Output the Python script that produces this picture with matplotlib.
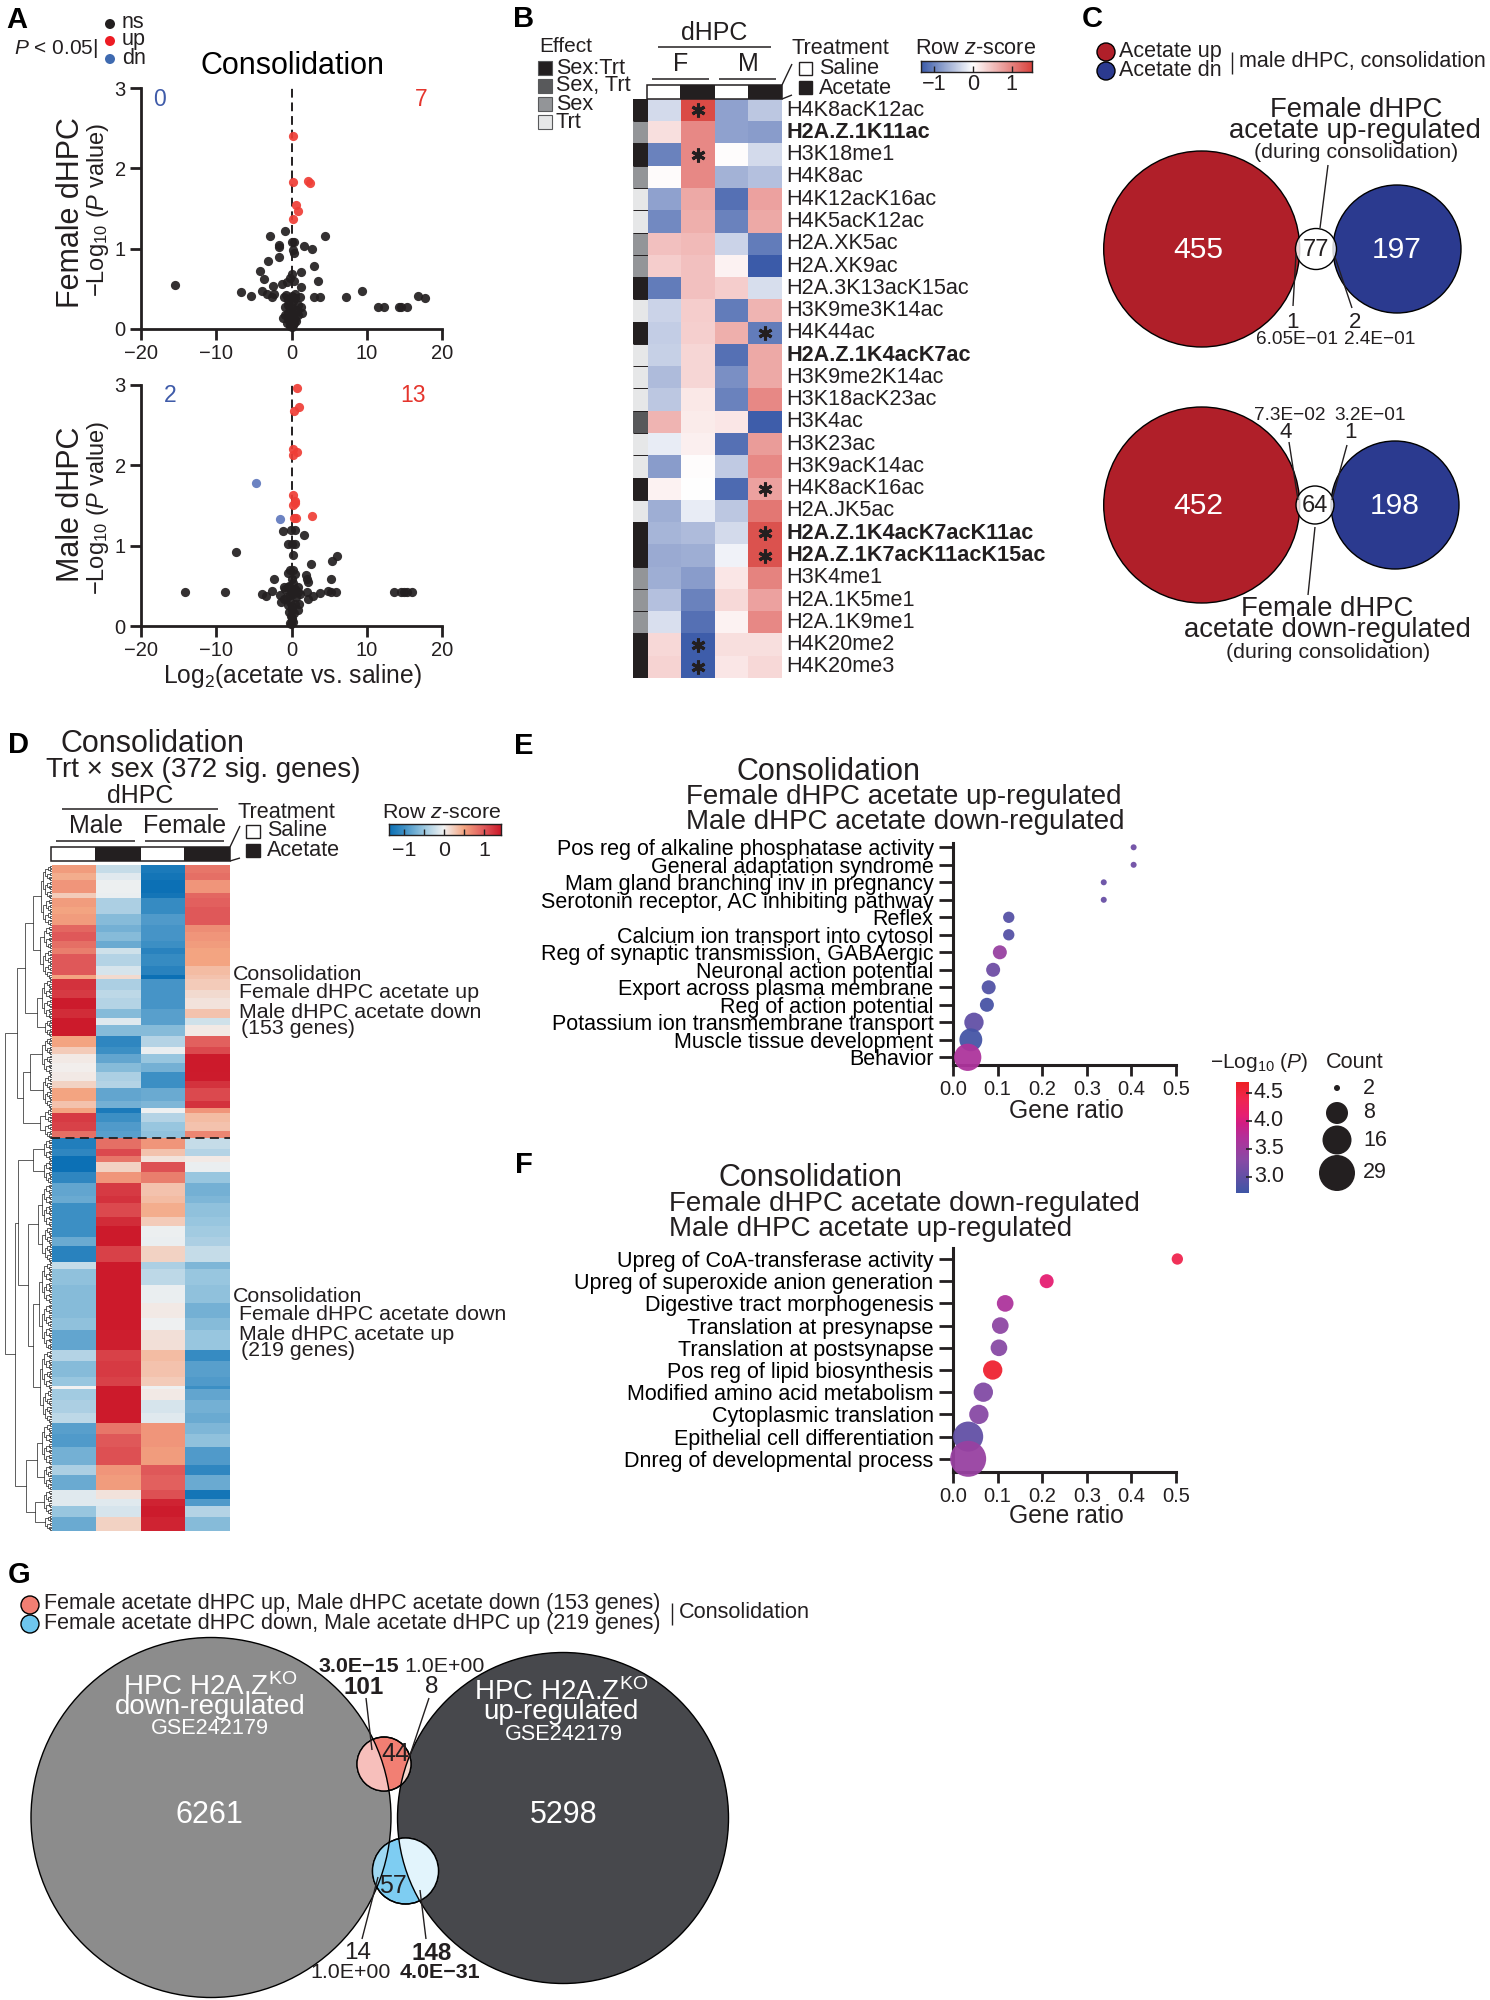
import numpy as np
import matplotlib
matplotlib.use('Agg')
import matplotlib.pyplot as plt
from matplotlib.patches import Circle, Rectangle
from matplotlib.colors import LinearSegmentedColormap, ListedColormap, TwoSlopeNorm, Normalize

plt.rcParams['font.family'] = ['Liberation Sans', 'DejaVu Sans']
plt.rcParams['mathtext.fontset'] = 'custom'
plt.rcParams['mathtext.rm'] = 'Liberation Sans'
plt.rcParams['mathtext.it'] = 'Liberation Sans:italic'
plt.rcParams['mathtext.bf'] = 'Liberation Sans:bold'
plt.rcParams['mathtext.default'] = 'regular'

# ---- panel A, volcano points (log2 fold change, -log10 p)
fem_ns_x = [-2.8, -0.8, 4.5, -1.7, -1.7, 0.0, 0.3, 1.6, 2.7, 0.2, 0.35, -1.6, -3.1, 3.0, -4.2, 1.3, -3.6, 3.5, 0.0, -0.2,
            0.3, -0.6, -1.3, -2.4, 1.2, -15.5, -6.7, -5.4, -3.9, -3.3, -2.6, -2.3, -1.0, 0.0, 0.4, 1.1, 3.0, 3.8, 7.2, 9.4,
            16.8, 17.8, 11.5, 12.3, 14.3, 14.6, 15.3, -0.7, -0.4, -0.1, 0.2, 0.5, 0.9, 1.3, 1.4, -0.9, -0.5, -0.2, 0.1, 0.4,
            0.7, -1.1, -0.8, -0.5, -0.3, 0.0, 0.2, 0.5, 0.8, -0.6, -0.3, 0.0, 0.3, 0.6, -0.2, 0.0, 0.15, -0.1]
fem_ns_y = [1.16, 1.22, 1.16, 1.05, 1.02, 1.08, 1.08, 1.03, 0.99, 0.98, 0.94, 0.90, 0.85, 0.78, 0.72, 0.71, 0.62, 0.60, 0.69, 0.64,
            0.60, 0.59, 0.56, 0.53, 0.52, 0.55, 0.46, 0.41, 0.47, 0.43, 0.40, 0.43, 0.40, 0.41, 0.44, 0.40, 0.40, 0.40, 0.40, 0.47,
            0.41, 0.38, 0.28, 0.28, 0.28, 0.28, 0.28, 0.42, 0.36, 0.38, 0.35, 0.39, 0.30, 0.28, 0.20, 0.28, 0.30, 0.25, 0.27, 0.24,
            0.22, 0.14, 0.18, 0.20, 0.14, 0.18, 0.16, 0.12, 0.18, 0.08, 0.10, 0.09, 0.08, 0.10, 0.04, 0.03, 0.05, 0.12]
fem_up_x = [0.2, 0.2, 2.2, 2.5, 0.6, 0.8, 0.2]
fem_up_y = [2.40, 1.83, 1.84, 1.82, 1.54, 1.47, 1.37]

male_ns_x = [-1.15, -0.1, 0.5, 1.7, -0.5, 0.5, 0.0, -7.4, 0.25, 6.0, 5.4, 2.65, -0.2, 0.25, -0.4, 0.5, 1.9, 2.0, 2.25, 5.2,
             -2.3, -14.1, -8.9, -3.9, -3.4, -2.6, -1.5, -1.0, -0.4, 0.25, 0.0, 0.9, 1.15, 2.0, 2.25, 2.9, 3.8, 4.9, 5.25, 5.9,
             13.6, 14.6, 15.0, 15.3, 16.0, -0.8, -0.3, 0.1, 0.5, 0.8, -1.4, -1.0, -0.6, -0.2, 0.2, 0.6, 1.0, -0.5, -0.2, 0.1,
             0.4, 0.9, -0.3, 0.0, 0.3, -0.1, 0.1, 0.0, 0.2, -0.2, -0.1]
male_ns_y = [1.18, 1.20, 1.20, 1.13, 1.02, 1.02, 1.02, 0.92, 0.88, 0.87, 0.81, 0.77, 0.70, 0.70, 0.66, 0.65, 0.63, 0.59, 0.55, 0.59,
             0.59, 0.42, 0.42, 0.40, 0.37, 0.43, 0.38, 0.48, 0.48, 0.53, 0.59, 0.48, 0.40, 0.42, 0.34, 0.37, 0.41, 0.43, 0.42, 0.42,
             0.42, 0.42, 0.42, 0.42, 0.42, 0.46, 0.50, 0.44, 0.46, 0.42, 0.30, 0.34, 0.36, 0.38, 0.40, 0.36, 0.28, 0.26, 0.30, 0.24,
             0.28, 0.20, 0.18, 0.20, 0.16, 0.12, 0.10, 0.07, 0.05, 0.04, 0.02]
male_up_x = [0.7, 1.0, 0.35, 0.15, 0.7, 0.2, 0.25, 0.5, 0.15, 2.7, 0.35, 0.6, 0.5]
male_up_y = [2.96, 2.72, 2.68, 2.20, 2.17, 2.13, 1.63, 1.55, 1.51, 1.37, 1.34, 1.35, 1.53]
male_dn_x = [-4.7, -1.55]
male_dn_y = [1.78, 1.33]

# ---- panel B, histone marks, z-scores F saline / F acetate / M saline / M acetate
marks = ['H4K8acK12ac', 'H2A.Z.1K11ac', 'H3K18me1', 'H4K8ac', 'H4K12acK16ac', 'H4K5acK12ac', 'H2A.XK5ac', 'H2A.XK9ac',
         'H2A.3K13acK15ac', 'H3K9me3K14ac', 'H4K44ac', 'H2A.Z.1K4acK7ac', 'H3K9me2K14ac', 'H3K18acK23ac', 'H3K4ac',
         'H3K23ac', 'H3K9acK14ac', 'H4K8acK16ac', 'H2A.JK5ac', 'H2A.Z.1K4acK7acK11ac', 'H2A.Z.1K7acK11acK15ac',
         'H3K4me1', 'H2A.1K5me1', 'H2A.1K9me1', 'H4K20me2', 'H4K20me3']
bold_marks = ['H2A.Z.1K11ac', 'H2A.Z.1K4acK7ac', 'H2A.Z.1K4acK7acK11ac', 'H2A.Z.1K7acK11acK15ac']
f_saline = [-0.30, 0.25, -1.00, 0.03, -0.75, -0.95, 0.50, 0.40, -1.05, -0.35, -0.40, -0.38, -0.55, -0.45, 0.60, -0.15,
            -0.80, 0.10, -0.65, -0.60, -0.68, -0.65, -0.50, -0.25, 0.32, 0.35]
f_acetate = [1.45, 0.95, 0.95, 0.95, 0.70, 0.65, 0.55, 0.50, 0.50, 0.40, 0.38, 0.33, 0.33, 0.18, 0.16, 0.12,
             0.02, 0.00, -0.15, -0.55, -0.65, -0.80, -1.00, -1.15, -1.30, -1.30]
m_saline = [-0.75, -0.75, 0.02, -0.62, -1.15, -1.00, -0.35, 0.10, 0.40, -1.05, 0.65, -1.15, -0.90, -1.00, 0.20, -1.15,
            -0.42, -1.20, -0.45, -0.30, -0.10, 0.20, 0.30, 0.10, 0.25, 0.20]
m_acetate = [-0.45, -0.80, -0.30, -0.50, 0.75, 0.70, -1.05, -1.33, -0.27, 0.60, -1.05, 0.70, 0.70, 0.95, -1.30, 0.80,
             0.95, 0.75, 1.10, 1.40, 1.40, 1.00, 0.75, 0.95, 0.25, 0.32]
effect_names = ['Sex:Trt', 'Sex, Trt', 'Sex', 'Trt']
effect_cols = ['#231f20', '#58595b', '#939598', '#e6e7e8']
effect_idx = [0, 2, 0, 2, 3, 3, 2, 2, 0, 3, 0, 3, 3, 3, 1, 3, 3, 0, 3, 0, 0, 2, 2, 2, 0, 0]
star_rows = [0, 2, 10, 17, 19, 20, 24, 25]
star_cols = [1, 1, 3, 3, 3, 3, 1, 1]

# ---- panel D, clustered rows as bands of genes, z-scores per group
band_genes = [5, 4, 7, 3, 5, 4, 6, 4, 5, 4, 3, 7, 5, 2, 6, 5, 6, 5, 4, 6, 6, 4, 5, 5, 5, 4, 7, 4, 3, 5, 5, 4,
              6, 4, 3, 6, 6, 7, 4, 8, 5, 6, 5, 9, 4, 9, 10, 8, 7, 11, 6, 9, 5, 2, 6, 7, 6, 6, 7, 10, 6, 8, 5, 4, 6, 8]
male_sal = [.55, .45, .60, .25, .55, .50, .55, .90, 1.0, .85, .75, 1.0, 1.0, .50, 1.25, 1.2, 1.4, 1.3, 1.42, 1.42,
            .50, .25, .05, .02, .05, .20, .50, .30, .50, 1.2, 1.15, .85,
            -1.2, -1.1, -1.35, -1.35, -1.1, -.80, -.75, -1.0, -1.0, -1.0, -.75, -1.15, -.25, -.55, -.60, -.60, -.55, -.80,
            -.35, -.60, -.50, 0.0, -.45, -.40, -.30, -.85, -.90, -.70, -.40, -.75, -.10, -.10, -.50, -.75]
male_ace = [-.25, -.10, -.03, -.05, -.40, -.40, -.60, -.70, -.60, -.75, -.20, -.35, -.15, .15, -.40, -.30, -.35, -.60, -.10, -.60,
            -1.1, -1.0, -.80, -.60, -.40, -.35, -.80, -.70, -1.25, -1.0, -.90, -.85,
            .85, 1.1, .80, .20, .60, 1.2, 1.25, 1.1, 1.3, 1.42, 1.42, 1.15, 1.42, 1.42, 1.42, 1.42, 1.42, 1.38,
            1.15, 1.2, 1.15, 1.42, 1.42, 1.42, 1.42, .80, 1.0, 1.05, .60, .55, .10, -.10, -.15, .20]
fem_sal = [-1.25, -1.3, -1.35, -1.3, -1.05, -1.05, -.90, -.95, -.95, -1.0, -1.15, -1.05, -1.15, -1.35, -.95, -.95, -.95, -.85, -.85, -.60,
           -.35, -.05, -.50, -.70, -1.0, -1.0, -.75, -.65, -.02, -.35, -.50, -.55,
           .60, .30, .10, 1.05, .75, .30, .35, .45, .25, -.03, -.05, .20, -.40, -.30, -.05, .05, -.02, .12,
           .35, .30, .25, -.02, .05, -.15, -.10, .60, .60, .55, 1.0, .95, 1.05, 1.35, 1.4, 1.35]
fem_ace = [.80, .85, .60, .90, .95, 1.0, 1.0, .65, .60, .55, .50, .50, .35, .30, .25, .15, .10, .30, -.20, .05,
           .95, 1.1, 1.42, 1.42, 1.4, 1.25, 1.1, 1.25, .60, .35, .30, .70,
           -.25, -.35, .05, -.05, -.50, -.70, -.65, -.55, -.50, -.45, -.40, -.25, -.65, -.50, -.55, -.70, -.60, -.50,
           -1.05, -.85, -.90, -1.0, -.80, -.70, -.75, -.65, -.55, -.90, -1.1, -.75, -1.3, -.90, -.35, -.60]
# merge tree (height, left, right), a plain number is a tight group of that many genes
upper_tree = (35, (27, (19, (11, 19, 15), (12, 13, 17)), (15, 22, 10)),
              (29, (22, 21, 19), (12, 8, 9)))
lower_tree = (37.5, (34, (19, 12, 13), (24, (14, 24, 20), (19, (13, 23, 26), (12, 22, 19)))),
              (26, (15, 23, 14), (17, 14, 9)))
root_height = 47

# ---- panel C/G, overlap counts
c_up = ['455', '77', '197']
c_dn = ['452', '64', '198']
g_counts = ['6261', '5298', '44', '57']

# ---- panels E, F, enrichment
e_terms = ['Pos reg of alkaline phosphatase activity', 'General adaptation syndrome', 'Mam gland branching inv in pregnancy',
           'Serotonin receptor, AC inhibiting pathway', 'Reflex', 'Calcium ion transport into cytosol',
           'Reg of synaptic transmission, GABAergic', 'Neuronal action potential', 'Export across plasma membrane',
           'Reg of action potential', 'Potassium ion transmembrane transport', 'Muscle tissue development', 'Behavior']
e_ratio = [0.405, 0.405, 0.338, 0.338, 0.125, 0.125, 0.105, 0.09, 0.08, 0.076, 0.047, 0.04, 0.033]
e_count = [2, 2, 2, 2, 4, 4, 5, 5, 5, 5, 7, 9, 14]
e_logp = [3.1, 3.1, 3.05, 3.05, 2.9, 2.9, 3.45, 3.1, 2.87, 2.8, 3.0, 2.77, 3.65]
f_terms = ['Upreg of CoA-transferase activity', 'Upreg of superoxide anion generation', 'Digestive tract morphogenesis',
           'Translation at presynapse', 'Translation at postsynapse', 'Pos reg of lipid biosynthesis',
           'Modified amino acid metabolism', 'Cytoplasmic translation', 'Epithelial cell differentiation',
           'Dnreg of developmental process']
f_ratio = [0.503, 0.21, 0.117, 0.106, 0.103, 0.089, 0.068, 0.058, 0.034, 0.034]
f_count = [4, 5, 6, 6, 6, 7, 7, 7, 18, 29]
f_logp = [4.4, 4.1, 3.65, 3.35, 3.3, 4.6, 3.25, 3.3, 3.0, 3.45]
size_counts = [2, 8, 16, 29]
size_diam_px = [6, 22, 29, 36]

BLACK = '#231f20'
W, H = 1490, 2000
fig = plt.figure(figsize=(W / 100, H / 100), dpi=100, facecolor='white')

# overlay in reference pixels for text and schematic shapes
ov = fig.add_axes([0, 0, 1, 1], zorder=5)
ov.set_xlim(0, W)
ov.set_ylim(H, 0)
ov.axis('off')
ov.patch.set_alpha(0)


def px_axes(x0, y0, x1, y1):
    return fig.add_axes([x0 / W, 1 - y1 / H, (x1 - x0) / W, (y1 - y0) / H])


def t(x, y, s, size=15.5, ha='left', color=BLACK, **kw):
    return ov.text(x, y, s, fontsize=size, ha=ha, va='center', color=color, **kw)


def seg(x0, y0, x1, y1, lw=1.0, color=BLACK, **kw):
    ov.plot([x0, x1], [y0, y1], color=color, lw=lw, solid_capstyle='butt', **kw)


def box(x0, y0, x1, y1, fc, ec=BLACK, lw=1.0):
    ov.add_patch(Rectangle((x0, y0), x1 - x0, y1 - y0, fc=fc, ec=ec, lw=lw))


def circ(x, y, r, fc, ec='black', lw=1.0, z=2):
    c = Circle((x, y), r, fc=fc, ec=ec, lw=lw, zorder=z)
    ov.add_patch(c)
    return c


def letter(x, y, s):
    t(x, y, s, size=21, ha='center', color='black', fontweight='bold')


def cbar_h(x0, y0, x1, y1, cmap, norm, vmin, vmax, ticks):
    ax = px_axes(x0, y0, x1, y1)
    ax.imshow(np.linspace(vmin, vmax, 256)[None, :], aspect='auto', cmap=cmap, norm=norm, extent=[vmin, vmax, 0, 1])
    ax.set_yticks([])
    ax.set_xticks(ticks)
    ax.set_xticklabels([])
    ax.tick_params(axis='x', direction='in', length=4, width=1, color=BLACK)
    for s in ax.spines.values():
        s.set_linewidth(1.0)
        s.set_color(BLACK)


# ---- A
def volcano(box_px, ns_x, ns_y, up_x, up_y, dn_x, dn_y, ylab, y_big, y_small):
    ax = px_axes(*box_px)
    ax.scatter(ns_x, ns_y, s=44, c=BLACK, alpha=0.92, lw=0, clip_on=False, zorder=3)
    ax.scatter(up_x, up_y, s=44, c='#ef3e36', alpha=0.92, lw=0, clip_on=False, zorder=3)
    if dn_x:
        ax.scatter(dn_x, dn_y, s=44, c='#6078bd', alpha=0.92, lw=0, clip_on=False, zorder=3)
    ax.axvline(0, color=BLACK, lw=1.4, dashes=(4.5, 2.5), zorder=2)
    ax.set_xlim(-20, 20)
    ax.set_ylim(0, 3)
    ax.set_xticks([-20, -10, 0, 10, 20])
    ax.set_xticklabels(['\u221220', '\u221210', '0', '10', '20'])
    ax.set_yticks([0, 1, 2, 3])
    ax.tick_params(length=8, width=2, labelsize=14.5, pad=3, color=BLACK, labelcolor=BLACK)
    for s in ['top', 'right']:
        ax.spines[s].set_visible(False)
    for s in ['left', 'bottom']:
        ax.spines[s].set_linewidth(2)
        ax.spines[s].set_color(BLACK)
    ax.patch.set_alpha(0)
    t(71, y_big, ylab, size=22, ha='center', rotation=90)
    t(98, y_small, r'$-$Log$_{10}$ ($\mathit{P}$ value)', size=17, ha='center', rotation=90)
    return ax


volcano((141, 88, 442, 329), fem_ns_x, fem_ns_y, fem_up_x, fem_up_y, [], [], 'Female dHPC', 213, 210)
volcano((141, 385, 442, 626), male_ns_x, male_ns_y, male_up_x, male_up_y, male_dn_x, male_dn_y, 'Male dHPC', 504, 508)
t(159, 99, '0', size=16.5, ha='center', color='#3f5ba9')
t(421, 99, '7', size=16.5, ha='center', color='#e5352d')
t(170, 396, '2', size=16.5, ha='center', color='#3f5ba9')
t(413, 396, '13', size=16.5, ha='center', color='#e5352d')
t(292, 66, 'Consolidation', size=22, ha='center', color='black')
t(292, 676, r'Log$_{2}$(acetate vs. saline)', size=17.7, ha='center')
letter(17, 20, 'A')
t(14, 48, r'$\mathit{P}$ < 0.05|', size=15)
for yy, col, lab in zip([24, 41, 59], [BLACK, '#ed1c24', '#3f6ab0'], ['ns', 'up', 'dn']):
    circ(110, yy, 5, col, ec='none')
    t(122, yy - 1, lab, size=15.5)

# ---- B
bmap = LinearSegmentedColormap.from_list('b', ['#3b5ba9', '#ffffff', '#d9443f'])
bnorm = TwoSlopeNorm(vmin=-1.33, vcenter=0, vmax=1.52)
bdata = np.column_stack([f_saline, f_acetate, m_saline, m_acetate])
ax = px_axes(648, 99, 782, 678)
ax.imshow(bdata, aspect='auto', cmap=bmap, norm=bnorm, interpolation='nearest')
ax.plot(star_cols, star_rows, ls='none', marker=(6, 2, 0), ms=10, mew=2.2, color=BLACK)
ax.axis('off')
ax.set_xlim(-0.5, 3.5)
ax.set_ylim(25.5, -0.5)
ax2 = px_axes(633, 99, 648, 678)
ax2.imshow(np.array(effect_idx)[:, None], aspect='auto', interpolation='nearest',
           cmap=ListedColormap(effect_cols), vmin=-0.5, vmax=3.5)
ax2.hlines(np.arange(0.5, 25), -0.5, 0.5, color=BLACK, lw=0.7)
ax2.axis('off')
row_h = 579 / 26
for i, m in enumerate(marks):
    t(786, 99 + (i + 0.5) * row_h, m, size=15.6, fontweight='bold' if m in bold_marks else 'normal')
letter(524, 19, 'B')
t(539, 47, 'Effect', size=15)
for yy, col, lab in zip([68, 86, 104, 122], effect_cols, effect_names):
    box(538, yy - 7, 552, yy + 7, col, ec='#58595b', lw=0.8)
    t(556, yy, lab, size=15.6)
t(714, 33, 'dHPC', size=18, ha='center')
seg(658, 47, 771, 47, 1.1)
t(681, 64, 'F', size=18, ha='center')
t(748, 64, 'M', size=18, ha='center')
seg(652, 79, 709, 79, 1.1)
seg(719, 79, 776, 79, 1.1)
box(647, 85, 782, 99, 'white', lw=1.1)
box(680, 85, 715, 99, BLACK, lw=0)
box(748, 85, 782, 99, BLACK, lw=0)
seg(782, 85, 792, 64, 1.0)
seg(782, 99, 792, 95, 1.0)
t(792, 49, 'Treatment', size=15.6)
box(799, 62, 812, 75, 'white')
t(819, 68, 'Saline', size=15.6)
box(799, 81, 812, 94, BLACK)
t(819, 88, 'Acetate', size=15.6)
t(976, 49, r'Row $\mathit{z}$-score', size=15.6, ha='center')
cbar_h(921, 61, 1032, 72, bmap, bnorm, -1.33, 1.52, [-1, 0, 1])
for val, lab in zip([-1, 0, 1], ['\u22121', '0', '1']):
    t(921 + (val + 1.33) / 2.85 * 111, 85, lab, size=15.6, ha='center')

# ---- C
RED, NAVY = '#b01f29', '#2b3a8f'
letter(1092, 19, 'C')
circ(1106, 52, 9, RED)
circ(1106, 71, 9, NAVY)
t(1119, 51, 'Acetate up', size=15.5)
t(1119, 70, 'Acetate dn', size=15.5)
seg(1232, 52, 1232, 74, 1.0)
t(1239, 61, 'male dHPC, consolidation', size=15.5)
for cy, labs, cx3, r3, cx2 in [(249, c_up, 1316, 20.5, 1397), (505, c_dn, 1315, 19, 1395)]:
    circ(1201.7, cy, 98, RED)
    circ(cx2, cy, 64, NAVY)
    circ(cx3, cy, r3, (1, 1, 1, 0.82), z=3)
    t(1198, cy + 1, labs[0], size=21.6, ha='center', color='white')
    t(cx3, cy + 1, labs[1], size=17, ha='center')
    t(cx2, cy + 1, labs[2], size=21.6, ha='center', color='white')
seg(1328, 165, 1320, 228)
t(1356, 110, 'Female dHPC', size=19.8, ha='center')
t(1355, 131, 'acetate up-regulated', size=19.8, ha='center')
t(1356, 153, '(during consolidation)', size=15.4, ha='center')
seg(1296, 254, 1293, 306, zorder=4)
seg(1335, 257, 1352, 308, zorder=4)
t(1292, 322, '1', size=16, ha='center')
t(1355, 322, '2', size=16, ha='center')
t(1297, 340, '6.05E\u221201', size=13.7, ha='center')
t(1380, 340, '2.4E\u221201', size=13.7, ha='center')
t(1290, 415, '7.3E\u221202', size=13.7, ha='center')
t(1370, 415, '3.2E\u221201', size=13.7, ha='center')
t(1286, 433, '4', size=16, ha='center')
t(1350, 433, '1', size=16, ha='center')
seg(1289, 442, 1298, 500, zorder=4)
seg(1347, 445, 1332, 500, zorder=4)
seg(1315, 527, 1308, 595)
t(1327, 609, 'Female dHPC', size=19.8, ha='center')
t(1327, 630, 'acetate down-regulated', size=19.8, ha='center')
t(1328, 652, '(during consolidation)', size=15.4, ha='center')

# ---- D
dmap = LinearSegmentedColormap.from_list('d', [(0, '#0b70b5'), (0.133, '#3e90c5'), (0.316, '#9cc8e0'), (0.49, '#f2f2f2'),
                                              (0.67, '#f4a582'), (0.85, '#e0595a'), (1, '#cc1a2b')])
dnorm = Normalize(-1.37, 1.42)
ddata = np.repeat(np.column_stack([male_sal, male_ace, fem_sal, fem_ace]), band_genes, axis=0)
ax = px_axes(52, 865, 229, 1531)
ax.imshow(ddata, aspect='auto', cmap=dmap, norm=dnorm, interpolation='nearest')
ax.axis('off')
seg(51, 1138, 230, 1138, 1.3, dashes=(5, 3), zorder=6)

# dendrogram, drawn by walking the merge tree top to bottom
dax = px_axes(4, 865, 52, 1531)
dax.set_xlim(48, 0)
dax.set_ylim(sum(band_genes), 0)
dax.axis('off')
next_row = [0]


def walk(node):
    # returns (row, height) of this node
    if isinstance(node, int):
        if node == 1:
            next_row[0] += 1
            return next_row[0] - 0.5, 0
        h = 2.2 * np.log2(node)
        kids = [node // 2, node - node // 2]
    else:
        h = node[0]
        kids = list(node[1:])
    y0, h0 = walk(kids[0])
    y1, h1 = walk(kids[1])
    dax.plot([h0, h, h, h1], [y0, y0, y1, y1], color='#333333', lw=0.55, solid_joinstyle='miter')
    return (y0 + y1) / 2, h


walk((root_height, upper_tree, lower_tree))

letter(18, 745, 'D')
t(153, 744, 'Consolidation', size=22, ha='center')
t(203, 770, 'Trt \u00d7 sex (372 sig. genes)', size=20, ha='center')
t(140, 796, 'dHPC', size=18, ha='center')
seg(62, 809, 218, 809, 1.1)
t(96, 826, 'Male', size=18, ha='center')
t(185, 826, 'Female', size=18, ha='center')
seg(56, 841, 135, 841, 1.1)
seg(145, 841, 224, 841, 1.1)
box(51, 847, 230, 861, 'white', lw=1.1)
box(95, 847, 141, 861, BLACK, lw=0)
box(184, 847, 230, 861, BLACK, lw=0)
seg(230, 847, 240, 826)
seg(230, 861, 240, 858)
t(237, 812, 'Treatment', size=15.6)
box(246, 825, 260, 838, 'white')
t(267, 831, 'Saline', size=15.6)
box(246, 844, 260, 857, BLACK)
t(267, 850, 'Acetate', size=15.6)
t(442, 812, r'Row $\mathit{z}$-score', size=15.4, ha='center')
cbar_h(389, 824, 501, 835, dmap, dnorm, -1.37, 1.42, [-1, -0.5, 0, 0.5, 1])
for val, lab in zip([-1, 0, 1], ['\u22121', '0', '1']):
    t(389 + (val + 1.37) / 2.79 * 112, 850, lab, size=15.4, ha='center')
for y0, lines in [(975, ['Consolidation', 'Female dHPC acetate up', 'Male dHPC acetate down', '(153 genes)']),
                  (1297, ['Consolidation', 'Female dHPC acetate down', 'Male dHPC acetate up', '(219 genes)'])]:
    t(233, y0, lines[0], size=15.4)
    t(239, y0 + 18, lines[1], size=15.4)
    t(239, y0 + 37, lines[2], size=15.4)
    t(241, y0 + 54, lines[3], size=15.4)

# ---- E, F
pmap = LinearSegmentedColormap.from_list('p', [(0, '#3f56a6'), (0.3, '#8a4aa5'), (0.5, '#b3309a'), (0.62, '#cf1f85'),
                                              (0.7, '#e61e72'), (0.85, '#f0264f'), (1, '#ee2024')])
pnorm = Normalize(2.72, 4.7)


def dots(top, bot, row0, row_step, terms, ratio, count, logp):
    ax = px_axes(953, top, 1176, bot)
    diam = np.interp(count, size_counts, size_diam_px) * 0.72
    ax.scatter(ratio, np.arange(len(terms)), s=diam ** 2, c=logp, cmap=pmap, norm=pnorm, lw=0, alpha=0.95,
               clip_on=False, zorder=3)
    ax.set_xlim(0, 0.5)
    ax.set_ylim((bot - row0) / row_step, (top - row0) / row_step)
    ax.set_yticks(np.arange(len(terms)))
    ax.set_yticklabels(terms)
    ax.set_xticks([0, 0.1, 0.2, 0.3, 0.4, 0.5])
    ax.set_xticklabels(['0.0', '0.1', '0.2', '0.3', '0.4', '0.5'])
    ax.tick_params(axis='y', length=10, width=2, labelsize=15.5, pad=4, color=BLACK, labelcolor='black')
    ax.tick_params(axis='x', length=8, width=2, labelsize=14.5, pad=3, color=BLACK, labelcolor=BLACK)
    for s in ['top', 'right']:
        ax.spines[s].set_visible(False)
    for s in ['left', 'bottom']:
        ax.spines[s].set_linewidth(2.2)
        ax.spines[s].set_color(BLACK)
    ax.patch.set_alpha(0)


dots(843, 1065, 847.3, 17.5, e_terms, e_ratio, e_count, e_logp)
dots(1248, 1472, 1259, 22.2, f_terms, f_ratio, f_count, f_logp)
letter(524, 746, 'E')
t(829, 772, 'Consolidation', size=22, ha='center')
t(686, 797, 'Female dHPC acetate up-regulated', size=20)
t(686, 822, 'Male dHPC acetate down-regulated', size=20)
t(1066, 1111, 'Gene ratio', size=17.7, ha='center')
letter(524, 1165, 'F')
t(810, 1178, 'Consolidation', size=22, ha='center')
t(669, 1204, 'Female dHPC acetate down-regulated', size=20)
t(669, 1229, 'Male dHPC acetate up-regulated', size=20)
t(1066, 1516, 'Gene ratio', size=17.7, ha='center')

t(1259, 1062, r'$-$Log$_{10}$ ($\mathit{P}$)', size=15, ha='center')
t(1355, 1062, 'Count', size=15.6, ha='center')
ax = px_axes(1236, 1082, 1249, 1193)
ax.imshow(np.linspace(4.7, 2.72, 256)[:, None], aspect='auto', cmap=pmap, norm=pnorm, extent=[0, 1, 2.72, 4.7])
ax.set_xticks([])
ax.yaxis.tick_right()
ax.set_yticks([3.0, 3.5, 4.0, 4.5])
ax.set_yticklabels([])
ax.tick_params(axis='y', direction='inout', length=5, width=1.2, color=BLACK)
for s in ax.spines.values():
    s.set_visible(False)
for yy, lab in zip([1177, 1149, 1120, 1093], ['3.0', '3.5', '4.0', '4.5']):
    t(1254, yy, lab, size=15.5)
for yy, c, d in zip([1088, 1113, 1140, 1173], size_counts, size_diam_px):
    circ(1337, yy, d / 2, BLACK, ec='none')
    t(1363, yy, str(c), size=15.5)

# ---- G
GRAY, DARK = '#8c8c8c', '#47484c'
letter(19, 1575, 'G')
circ(30, 1605, 9, '#f27f73')
circ(30, 1624, 9, '#6ec6ee')
t(44, 1604, 'Female acetate dHPC up, Male dHPC acetate down (153 genes)', size=15.5)
t(44, 1623, 'Female acetate dHPC down, Male acetate dHPC up (219 genes)', size=15.5)
seg(672, 1603, 672, 1625)
t(679, 1613, 'Consolidation', size=15.6)
circ(211, 1817.5, 180, GRAY)
circ(563, 1818, 165.5, DARK)


def small_venn(cx, cy, r, mid, left_col, right_col):
    # middle part, then the parts shared with each big circle, clipped to the small circle
    c = circ(cx, cy, r, mid, z=3)
    for bx, by, br, col in [(211, 1817.5, 180, left_col), (563, 1818, 165.5, right_col)]:
        p = Circle((bx, by), br, fc=col, ec='black', lw=1.0, zorder=3.1)
        ov.add_patch(p)
        p.set_clip_path(c)
    circ(cx, cy, r, 'none', z=3.2)


small_venn(384, 1764, 27, '#f27f73', '#f7bfbb', '#f5d6cc')
small_venn(405.5, 1871, 33, '#7ecdf2', '#9fd8f2', '#e2f4fc')
t(210, 1687, r'HPC H2A.Z$^{KO}$', size=20, ha='center', color='white')
t(210, 1707, 'down-regulated', size=20, ha='center', color='white')
t(210, 1729, 'GSE242179', size=15.6, ha='center', color='white')
t(561, 1692, r'HPC H2A.Z$^{KO}$', size=20, ha='center', color='white')
t(561, 1712, 'up-regulated', size=20, ha='center', color='white')
t(564, 1735, 'GSE242179', size=15.6, ha='center', color='white')
t(209, 1815, g_counts[0], size=22, ha='center', color='white')
t(564, 1815, g_counts[1], size=22, ha='center', color='white')
t(395, 1754, g_counts[2], size=18, ha='center', zorder=6)
t(393, 1886, g_counts[3], size=18, ha='center', zorder=6)
t(359, 1666, '3.0E\u221215', size=15.4, ha='center', fontweight='bold', zorder=6)
t(445, 1666, '1.0E+00', size=15.4, ha='center', zorder=6)
t(364, 1687, '101', size=17.5, ha='center', fontweight='bold', zorder=6)
t(432, 1687, '8', size=17.5, ha='center', zorder=6)
t(358, 1953, '14', size=17.5, ha='center', zorder=6)
t(351, 1973, '1.0E+00', size=15.4, ha='center', zorder=6)
t(432, 1953, '148', size=17.5, ha='center', fontweight='bold', zorder=6)
t(440, 1973, '4.0E\u221231', size=15.4, ha='center', fontweight='bold', zorder=6)
seg(366, 1698, 372, 1750, zorder=6)
seg(429, 1698, 409, 1758, zorder=6)
seg(362, 1939, 378, 1877, zorder=6)
seg(426, 1939, 420, 1890, zorder=6)

fig.savefig('out.png', dpi=100, facecolor='white')
